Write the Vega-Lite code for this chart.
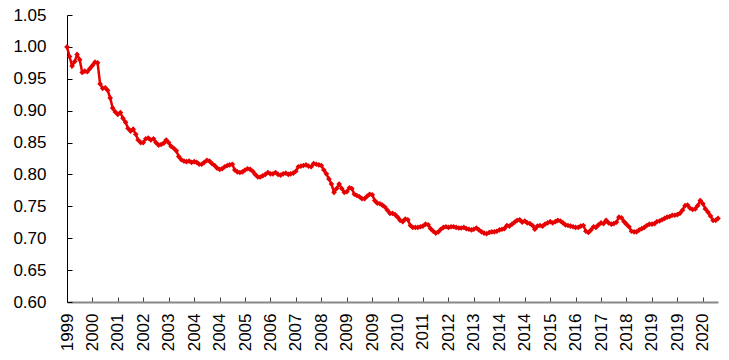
{
 "$schema": "https://vega.github.io/schema/vega-lite/v6.json",
 "width": 651,
 "height": 287,
 "autosize": {"type": "none"},
 "padding": {"left": 67, "top": 15, "right": 11, "bottom": 58},
 "background": "white",
 "config": {
  "view": {"stroke": null},
  "axis": {"labelFont": "Liberation Sans", "labelFontSize": 17, "labelColor": "#000000", "grid": false, "title": null}
 },
 "datasets": {
  "s": [
   {"d":"1999/11/01","v":1.000},{"d":"1999/12/01","v":0.985},
   {"d":"2000/01/01","v":0.970},{"d":"2000/02/01","v":0.977},{"d":"2000/03/01","v":0.988},{"d":"2000/04/01","v":0.980},{"d":"2000/05/01","v":0.960},{"d":"2000/06/01","v":0.962},{"d":"2000/07/01","v":0.961},{"d":"2000/08/01","v":0.966},{"d":"2000/09/01","v":0.971},{"d":"2000/10/01","v":0.976},{"d":"2000/11/01","v":0.975},{"d":"2000/12/01","v":0.942},
   {"d":"2001/01/01","v":0.935},{"d":"2001/02/01","v":0.936},{"d":"2001/03/01","v":0.932},{"d":"2001/04/01","v":0.920},{"d":"2001/05/01","v":0.904},{"d":"2001/06/01","v":0.898},{"d":"2001/07/01","v":0.894},{"d":"2001/08/01","v":0.897},{"d":"2001/09/01","v":0.888},{"d":"2001/10/01","v":0.882},{"d":"2001/11/01","v":0.872},{"d":"2001/12/01","v":0.868},
   {"d":"2002/01/01","v":0.871},{"d":"2002/02/01","v":0.863},{"d":"2002/03/01","v":0.854},{"d":"2002/04/01","v":0.850},{"d":"2002/05/01","v":0.850},{"d":"2002/06/01","v":0.856},{"d":"2002/07/01","v":0.857},{"d":"2002/08/01","v":0.854},{"d":"2002/09/01","v":0.856},{"d":"2002/10/01","v":0.850},{"d":"2002/11/01","v":0.846},{"d":"2002/12/01","v":0.847},
   {"d":"2003/01/01","v":0.849},{"d":"2003/02/01","v":0.854},{"d":"2003/03/01","v":0.850},{"d":"2003/04/01","v":0.844},{"d":"2003/05/01","v":0.841},{"d":"2003/06/01","v":0.837},{"d":"2003/07/01","v":0.828},{"d":"2003/08/01","v":0.823},{"d":"2003/09/01","v":0.821},{"d":"2003/10/01","v":0.820},{"d":"2003/11/01","v":0.821},{"d":"2003/12/01","v":0.819},
   {"d":"2004/01/01","v":0.820},{"d":"2004/02/01","v":0.819},{"d":"2004/03/01","v":0.816},{"d":"2004/04/01","v":0.816},{"d":"2004/05/01","v":0.819},{"d":"2004/06/01","v":0.822},{"d":"2004/07/01","v":0.821},{"d":"2004/08/01","v":0.817},{"d":"2004/09/01","v":0.814},{"d":"2004/10/01","v":0.810},{"d":"2004/11/01","v":0.808},{"d":"2004/12/01","v":0.809},
   {"d":"2005/01/01","v":0.812},{"d":"2005/02/01","v":0.814},{"d":"2005/03/01","v":0.815},{"d":"2005/04/01","v":0.816},{"d":"2005/05/01","v":0.807},{"d":"2005/06/01","v":0.804},{"d":"2005/07/01","v":0.803},{"d":"2005/08/01","v":0.804},{"d":"2005/09/01","v":0.807},{"d":"2005/10/01","v":0.809},{"d":"2005/11/01","v":0.808},{"d":"2005/12/01","v":0.805},
   {"d":"2006/01/01","v":0.800},{"d":"2006/02/01","v":0.796},{"d":"2006/03/01","v":0.796},{"d":"2006/04/01","v":0.798},{"d":"2006/05/01","v":0.800},{"d":"2006/06/01","v":0.803},{"d":"2006/07/01","v":0.801},{"d":"2006/08/01","v":0.801},{"d":"2006/09/01","v":0.803},{"d":"2006/10/01","v":0.800},{"d":"2006/11/01","v":0.799},{"d":"2006/12/01","v":0.801},
   {"d":"2007/01/01","v":0.802},{"d":"2007/02/01","v":0.800},{"d":"2007/03/01","v":0.801},{"d":"2007/04/01","v":0.802},{"d":"2007/05/01","v":0.805},{"d":"2007/06/01","v":0.812},{"d":"2007/07/01","v":0.813},{"d":"2007/08/01","v":0.814},{"d":"2007/09/01","v":0.815},{"d":"2007/10/01","v":0.813},{"d":"2007/11/01","v":0.812},{"d":"2007/12/01","v":0.817},
   {"d":"2008/01/01","v":0.816},{"d":"2008/02/01","v":0.815},{"d":"2008/03/01","v":0.814},{"d":"2008/04/01","v":0.807},{"d":"2008/05/01","v":0.801},{"d":"2008/06/01","v":0.793},{"d":"2008/07/01","v":0.785},{"d":"2008/08/01","v":0.772},{"d":"2008/09/01","v":0.778},{"d":"2008/10/01","v":0.785},{"d":"2008/11/01","v":0.778},{"d":"2008/12/01","v":0.772},
   {"d":"2009/01/01","v":0.773},{"d":"2009/02/01","v":0.779},{"d":"2009/03/01","v":0.778},{"d":"2009/04/01","v":0.769},{"d":"2009/05/01","v":0.767},{"d":"2009/06/01","v":0.765},{"d":"2009/07/01","v":0.762},{"d":"2009/08/01","v":0.762},{"d":"2009/09/01","v":0.766},{"d":"2009/10/01","v":0.769},{"d":"2009/11/01","v":0.768},{"d":"2009/12/01","v":0.759},
   {"d":"2010/01/01","v":0.755},{"d":"2010/02/01","v":0.754},{"d":"2010/03/01","v":0.752},{"d":"2010/04/01","v":0.749},{"d":"2010/05/01","v":0.744},{"d":"2010/06/01","v":0.739},{"d":"2010/07/01","v":0.739},{"d":"2010/08/01","v":0.737},{"d":"2010/09/01","v":0.733},{"d":"2010/10/01","v":0.728},{"d":"2010/11/01","v":0.726},{"d":"2010/12/01","v":0.730},
   {"d":"2011/01/01","v":0.729},{"d":"2011/02/01","v":0.720},{"d":"2011/03/01","v":0.717},{"d":"2011/04/01","v":0.717},{"d":"2011/05/01","v":0.717},{"d":"2011/06/01","v":0.718},{"d":"2011/07/01","v":0.719},{"d":"2011/08/01","v":0.722},{"d":"2011/09/01","v":0.721},{"d":"2011/10/01","v":0.715},{"d":"2011/11/01","v":0.711},{"d":"2011/12/01","v":0.708},
   {"d":"2012/01/01","v":0.710},{"d":"2012/02/01","v":0.714},{"d":"2012/03/01","v":0.717},{"d":"2012/04/01","v":0.718},{"d":"2012/05/01","v":0.717},{"d":"2012/06/01","v":0.718},{"d":"2012/07/01","v":0.718},{"d":"2012/08/01","v":0.717},{"d":"2012/09/01","v":0.716},{"d":"2012/10/01","v":0.716},{"d":"2012/11/01","v":0.717},{"d":"2012/12/01","v":0.715},
   {"d":"2013/01/01","v":0.714},{"d":"2013/02/01","v":0.713},{"d":"2013/03/01","v":0.714},{"d":"2013/04/01","v":0.716},{"d":"2013/05/01","v":0.713},{"d":"2013/06/01","v":0.710},{"d":"2013/07/01","v":0.708},{"d":"2013/08/01","v":0.707},{"d":"2013/09/01","v":0.709},{"d":"2013/10/01","v":0.710},{"d":"2013/11/01","v":0.710},{"d":"2013/12/01","v":0.711},
   {"d":"2014/01/01","v":0.713},{"d":"2014/02/01","v":0.714},{"d":"2014/03/01","v":0.715},{"d":"2014/04/01","v":0.720},{"d":"2014/05/01","v":0.719},{"d":"2014/06/01","v":0.722},{"d":"2014/07/01","v":0.725},{"d":"2014/08/01","v":0.728},{"d":"2014/09/01","v":0.729},{"d":"2014/10/01","v":0.725},{"d":"2014/11/01","v":0.727},{"d":"2014/12/01","v":0.724},
   {"d":"2015/01/01","v":0.723},{"d":"2015/02/01","v":0.720},{"d":"2015/03/01","v":0.714},{"d":"2015/04/01","v":0.719},{"d":"2015/05/01","v":0.720},{"d":"2015/06/01","v":0.719},{"d":"2015/07/01","v":0.722},{"d":"2015/08/01","v":0.724},{"d":"2015/09/01","v":0.726},{"d":"2015/10/01","v":0.724},{"d":"2015/11/01","v":0.726},{"d":"2015/12/01","v":0.728},
   {"d":"2016/01/01","v":0.727},{"d":"2016/02/01","v":0.724},{"d":"2016/03/01","v":0.721},{"d":"2016/04/01","v":0.720},{"d":"2016/05/01","v":0.719},{"d":"2016/06/01","v":0.718},{"d":"2016/07/01","v":0.717},{"d":"2016/08/01","v":0.717},{"d":"2016/09/01","v":0.719},{"d":"2016/10/01","v":0.720},{"d":"2016/11/01","v":0.711},{"d":"2016/12/01","v":0.709},
   {"d":"2017/01/01","v":0.713},{"d":"2017/02/01","v":0.718},{"d":"2017/03/01","v":0.717},{"d":"2017/04/01","v":0.721},{"d":"2017/05/01","v":0.724},{"d":"2017/06/01","v":0.723},{"d":"2017/07/01","v":0.728},{"d":"2017/08/01","v":0.724},{"d":"2017/09/01","v":0.722},{"d":"2017/10/01","v":0.723},{"d":"2017/11/01","v":0.725},{"d":"2017/12/01","v":0.733},
   {"d":"2018/01/01","v":0.732},{"d":"2018/02/01","v":0.726},{"d":"2018/03/01","v":0.722},{"d":"2018/04/01","v":0.718},{"d":"2018/05/01","v":0.711},{"d":"2018/06/01","v":0.710},{"d":"2018/07/01","v":0.710},{"d":"2018/08/01","v":0.713},{"d":"2018/09/01","v":0.715},{"d":"2018/10/01","v":0.717},{"d":"2018/11/01","v":0.720},{"d":"2018/12/01","v":0.722},
   {"d":"2019/01/01","v":0.722},{"d":"2019/02/01","v":0.723},{"d":"2019/03/01","v":0.726},{"d":"2019/04/01","v":0.727},{"d":"2019/05/01","v":0.729},{"d":"2019/06/01","v":0.731},{"d":"2019/07/01","v":0.733},{"d":"2019/08/01","v":0.734},{"d":"2019/09/01","v":0.736},{"d":"2019/10/01","v":0.736},{"d":"2019/11/01","v":0.737},{"d":"2019/12/01","v":0.739},
   {"d":"2020/01/01","v":0.744},{"d":"2020/02/01","v":0.751},{"d":"2020/03/01","v":0.752},{"d":"2020/04/01","v":0.747},{"d":"2020/05/01","v":0.745},{"d":"2020/06/01","v":0.746},{"d":"2020/07/01","v":0.751},{"d":"2020/08/01","v":0.759},{"d":"2020/09/01","v":0.754},{"d":"2020/10/01","v":0.746},{"d":"2020/11/01","v":0.741},{"d":"2020/12/01","v":0.735},
   {"d":"2021/01/01","v":0.728},{"d":"2021/02/01","v":0.728},{"d":"2021/03/01","v":0.731}
  ]
 },
 "data": {"name": "s"},
 "encoding": {
  "x": {
   "field": "d", "type": "temporal",
   "scale": {"nice": false, "padding": 0},
   "axis": {
    "values": [
     {"year":1999,"month":11,"date":1},{"year":2000,"month":9,"date":1},{"year":2001,"month":7,"date":1},{"year":2002,"month":5,"date":1},{"year":2003,"month":3,"date":1},{"year":2004,"month":1,"date":1},{"year":2004,"month":11,"date":1},{"year":2005,"month":9,"date":1},{"year":2006,"month":7,"date":1},{"year":2007,"month":5,"date":1},{"year":2008,"month":3,"date":1},{"year":2009,"month":1,"date":1},{"year":2009,"month":11,"date":1},{"year":2010,"month":9,"date":1},{"year":2011,"month":7,"date":1},{"year":2012,"month":5,"date":1},{"year":2013,"month":3,"date":1},{"year":2014,"month":1,"date":1},{"year":2014,"month":11,"date":1},{"year":2015,"month":9,"date":1},{"year":2016,"month":7,"date":1},{"year":2017,"month":5,"date":1},{"year":2018,"month":3,"date":1},{"year":2019,"month":1,"date":1},{"year":2019,"month":11,"date":1},{"year":2020,"month":9,"date":1}
    ],
    "format": "%Y",
    "labelAngle": -90,
    "labelAlign": "right",
    "labelBaseline": "middle",
    "labelOverlap": false,
    "labelFlush": false,
    "tickSize": -5,
    "tickColor": "#404040",
    "labelPadding": 16,
    "domainColor": "#888888",
    "domainWidth": 2
   }
  },
  "y": {
   "field": "v", "type": "quantitative",
   "scale": {"domain": [0.6, 1.05], "nice": false, "zero": false},
   "axis": {
    "values": [0.6, 0.65, 0.7, 0.75, 0.8, 0.85, 0.9, 0.95, 1.0, 1.05],
    "format": ".2f",
    "labelOverlap": false,
    "labelFlush": false,
    "tickSize": -5,
    "tickColor": "#000000",
    "domainColor": "#000000",
    "labelPadding": 26
   }
  }
 },
 "layer": [
  {"mark": {"type": "line", "color": "#E60000", "strokeWidth": 2.5}},
  {"mark": {"type": "point", "shape": "diamond", "filled": true, "color": "#E60000", "size": 32, "opacity": 1}}
 ]
}
